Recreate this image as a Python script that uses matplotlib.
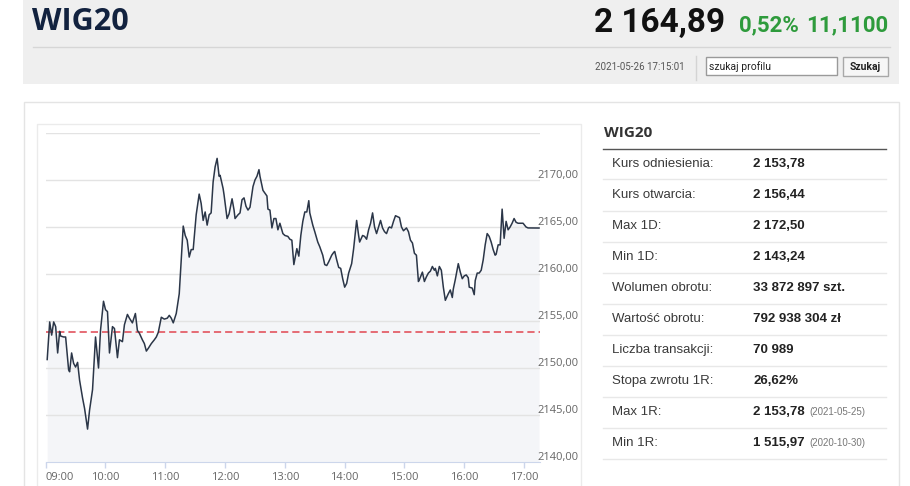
import matplotlib
matplotlib.use('Agg')
import matplotlib.pyplot as plt
from matplotlib.patches import Rectangle
from matplotlib.transforms import offset_copy

# intraday WIG20 quotes: minutes after 09:00 and index level
minutes = [1.5, 4, 6, 8, 10, 12, 14, 15, 18, 20, 23, 24, 26, 28, 30, 32, 34, 37, 39, 42,
           44, 47, 50, 53, 55, 58, 60, 62, 64, 67, 69, 72, 74, 77, 79, 82, 84, 87, 90, 92,
           94, 97, 99, 101, 103, 106, 109, 111, 113, 116, 119, 122, 124, 126, 128, 131, 134, 136, 138, 140,
           142, 144, 146, 148, 151, 154, 156, 158, 160, 162, 164, 166, 168, 170, 172, 174, 175, 178, 179, 182,
           184, 187, 189, 190, 193, 195, 197, 199, 201, 203, 205, 208, 210, 212, 214, 215, 218, 220, 222, 223,
           225, 227, 229, 231, 233, 235, 238, 240, 243, 245, 247, 249, 252, 254, 256, 258, 260, 262, 264, 265,
           267, 268, 270, 273, 275, 278, 280, 282, 284, 287, 289, 290, 292, 294, 296, 298, 300, 302, 304, 307,
           309, 311, 312, 314, 315, 318, 320, 322, 324, 326, 328, 330, 332, 334, 336, 338, 340, 342, 344, 345,
           347, 349, 351, 353, 355, 357, 359, 362, 364, 366, 368, 370, 372, 374, 375, 378, 380, 382, 384, 386,
           388, 390, 391, 393, 395, 397, 399, 401, 404, 406, 408, 409, 411, 414, 416, 418, 420, 422, 424, 425,
           428, 430, 431, 433, 435, 437, 439, 441, 443, 445, 447, 449, 451, 452, 454, 456, 458, 460, 462, 464,
           466, 468, 470, 472, 474, 479, 482, 484, 495]
level = [2150.9, 2154.9, 2153.5, 2154.9, 2154.4, 2151.6, 2153.9, 2153.4, 2153.3, 2153.3, 2149.8, 2149.6, 2151.6, 2150.5, 2150.1, 2150.6, 2148.7, 2146.8, 2145.7, 2143.5,
         2145.5, 2147.7, 2153.3, 2150.0, 2154.0, 2157.1, 2156.2, 2156.0, 2151.6, 2154.4, 2154.2, 2151.1, 2153.0, 2152.8, 2154.6, 2155.7, 2155.3, 2154.8, 2155.8, 2154.0,
         2153.7, 2153.0, 2152.6, 2151.8, 2152.1, 2152.6, 2153.0, 2153.3, 2153.8, 2155.4, 2155.2, 2155.3, 2155.6, 2155.3, 2154.8, 2155.8, 2157.9, 2161.5, 2165.1, 2164.1,
         2163.6, 2161.8, 2162.6, 2162.6, 2166.3, 2168.5, 2167.5, 2165.7, 2166.6, 2165.2, 2166.3, 2166.5, 2169.8, 2171.4, 2172.3, 2170.4, 2170.5, 2169.1, 2168.4, 2165.9,
         2166.4, 2168.0, 2166.8, 2165.9, 2166.3, 2166.5, 2167.9, 2168.1, 2167.2, 2166.8, 2167.1, 2169.3, 2170.0, 2170.4, 2171.1, 2170.4, 2168.9, 2168.6, 2168.3, 2166.9,
         2166.8, 2164.9, 2165.9, 2165.9, 2164.7, 2165.4, 2164.3, 2164.1, 2164.0, 2163.7, 2163.6, 2161.0, 2162.7, 2161.9, 2164.1, 2165.6, 2166.6, 2166.6, 2167.8, 2166.5,
         2165.6, 2165.2, 2164.5, 2163.4, 2162.9, 2162.0, 2161.0, 2160.9, 2161.3, 2162.0, 2162.3, 2162.4, 2161.5, 2160.7, 2160.6, 2159.5, 2158.6, 2159.0, 2160.1, 2161.1,
         2162.7, 2164.7, 2165.7, 2164.1, 2163.4, 2164.1, 2164.0, 2163.7, 2164.7, 2165.4, 2166.5, 2165.0, 2164.3, 2165.0, 2165.7, 2164.9, 2164.5, 2164.3, 2164.9, 2165.0,
         2164.9, 2165.6, 2166.2, 2166.1, 2166.0, 2165.0, 2164.6, 2164.9, 2164.5, 2163.6, 2163.3, 2162.2, 2162.0, 2159.2, 2159.4, 2160.2, 2159.2, 2159.7, 2160.1, 2160.3,
         2160.8, 2160.4, 2160.6, 2159.8, 2160.8, 2160.4, 2158.6, 2157.2, 2157.9, 2158.3, 2157.5, 2158.4, 2159.4, 2161.1, 2160.2, 2159.5, 2159.8, 2159.9, 2159.6, 2158.6,
         2158.5, 2157.8, 2159.3, 2160.1, 2160.1, 2160.4, 2161.5, 2163.1, 2164.3, 2164.0, 2163.4, 2162.6, 2162.0, 2162.1, 2163.1, 2163.1, 2166.9, 2163.8, 2165.6, 2164.7,
         2165.0, 2165.4, 2165.9, 2165.5, 2165.4, 2165.4, 2165.0, 2164.9, 2164.89]

ref_level = 2153.78
grid_levels = [2140, 2145, 2150, 2155, 2160, 2165, 2170, 2175]
label_levels = [2140, 2145, 2150, 2155, 2160, 2165, 2170]
label_texts = ['2140,00', '2145,00', '2150,00', '2155,00', '2160,00', '2165,00', '2170,00']
hour_ticks = [0, 60, 120, 180, 240, 300, 360, 420, 480]
hour_labels = ['09:00', '10:00', '11:00', '12:00', '13:00', '14:00', '15:00', '16:00', '17:00']

index_name = 'WIG20'
last_price = '2 164,89'
change_pct = '0,52%'
change_abs = '11,1100'
stamp = '2021-05-26 17:15:01'

row_labels = ['Kurs odniesienia:', 'Kurs otwarcia:', 'Max 1D:', 'Min 1D:', 'Wolumen obrotu:',
              'Wartość obrotu:', 'Liczba transakcji:', 'Stopa zwrotu 1R:', 'Max 1R:', 'Min 1R:']
row_values = ['2 153,78', '2 156,44', '2 172,50', '2 143,24', '33 872 897 szt.',
              '792 938 304 zł', '70 989', '26,62%', '2 153,78', '1 515,97']
row_dates = ['', '', '', '', '', '', '', '', '(2021-05-25)', '(2020-10-30)']

head_font = ['Roboto', 'DejaVu Sans']
arial = ['Liberation Sans', 'DejaVu Sans']
hc_font = ['Open Sans', 'DejaVu Sans']

fig = plt.figure(figsize=(9.1, 4.86), dpi=100)

# page background in pixel coordinates
bg = fig.add_axes([0, 0, 1, 1])
bg.set_xlim(0, 910)
bg.set_ylim(486, 0)
bg.axis('off')

# header strip
bg.add_patch(Rectangle((23, 0), 876, 84, fc='#efefef', ec='none'))
bg.plot([33, 890], [47.5, 47.5], color='#d6d6d6', lw=1)
bg.text(32, 29.5, index_name, fontsize=22, color='#12223f', fontweight='bold', family=hc_font,
        va='baseline')
bg.text(725, 31.5, last_price, fontsize=24, color='#111111', fontweight='bold', family=head_font,
        ha='right', va='baseline')
bg.text(799, 31, change_pct, fontsize=16, color='#2e9b3c', fontweight='bold', family=head_font,
        ha='right', va='baseline')
bg.text(888, 31, change_abs, fontsize=16, color='#2e9b3c', fontweight='bold', family=head_font,
        ha='right', va='baseline')
bg.text(685, 67, stamp, fontsize=7, color='#555555', family=head_font, ha='right', va='center')
bg.plot([695.5, 695.5], [56, 80], color='#d4d4d4', lw=1)
bg.add_patch(Rectangle((705.5, 57.5), 131, 18, fc='white', ec='#9a9a9a', lw=1))
bg.text(709, 66.5, 'szukaj profilu', fontsize=7.5, color='#222222', family=head_font, va='center')
bg.add_patch(Rectangle((842.5, 57.5), 45, 19, fc='#f6f6f6', ec='#a8a8a8', lw=1))
bg.text(865, 67, 'Szukaj', fontsize=7.5, color='#222222', fontweight='bold', family=head_font,
        ha='center', va='center')

# content cards
bg.add_patch(Rectangle((23.5, 101.5), 875, 420, fc='white', ec='#e4e4e4', lw=1))
bg.add_patch(Rectangle((36.5, 123.5), 544, 420, fc='white', ec='#ebebeb', lw=1))

# summary table
bg.text(604, 133, index_name, fontsize=11, color='#333333', fontweight='bold', family=hc_font,
        va='center')
bg.plot([603, 886], [149.5, 149.5], color='#555555', lw=1)
for i, (lab, val, dt) in enumerate(zip(row_labels, row_values, row_dates)):
    yc = 163.5 + 31 * i
    bg.text(612, yc, lab, fontsize=9.5, color='#3a3a3a', family=arial, va='center')
    bg.text(753, yc, val, fontsize=9.5, color='#222222', fontweight='bold', family=arial, va='center')
    if dt:
        bg.text(809, yc + 0.5, dt, fontsize=7, color='#777777', family=arial, va='center')
    bg.plot([603, 886], [yc + 16, yc + 16], color='#e8e8e8', lw=1)

# price chart
ax = fig.add_axes([45.7 / 910, 24 / 486, 494.3 / 910, 329 / 486])
ax.set_zorder(2)
ax.patch.set_alpha(0)
ax.set_xlim(0, 496)
ax.set_ylim(2140, 2175)

ax.fill_between(minutes, level, 2140, color='#f4f5f8', lw=0, zorder=1)
for g in grid_levels[1:]:
    ax.axhline(g, color='#e3e3e3', lw=1, zorder=2)
ax.plot(minutes, level, color='#2b3648', lw=1.1, zorder=4)
ax.axhline(ref_level, color='#e4606a', lw=1.3, dashes=(4, 2.2), zorder=3)

lab_tr = offset_copy(ax.get_yaxis_transform(), fig=fig, x=0, y=5, units='dots')
for v, t in zip(label_levels, label_texts):
    ax.text(0.994, v, t, transform=lab_tr, fontsize=8, color='#666666', family=hc_font,
            ha='left', va='center')

for side in ['top', 'left', 'right']:
    ax.spines[side].set_visible(False)
ax.spines['bottom'].set_color('#ccd6eb')
ax.set_yticks([])
ax.set_xticks(hour_ticks)
ax.set_xticklabels(hour_labels, fontsize=8, color='#666666', family=hc_font)
ax.tick_params(axis='x', length=4.5, width=1, color='#ccd6eb', pad=2.5)
ax.get_xticklabels()[0].set_ha('left')

fig.savefig('out.png', dpi=100)
